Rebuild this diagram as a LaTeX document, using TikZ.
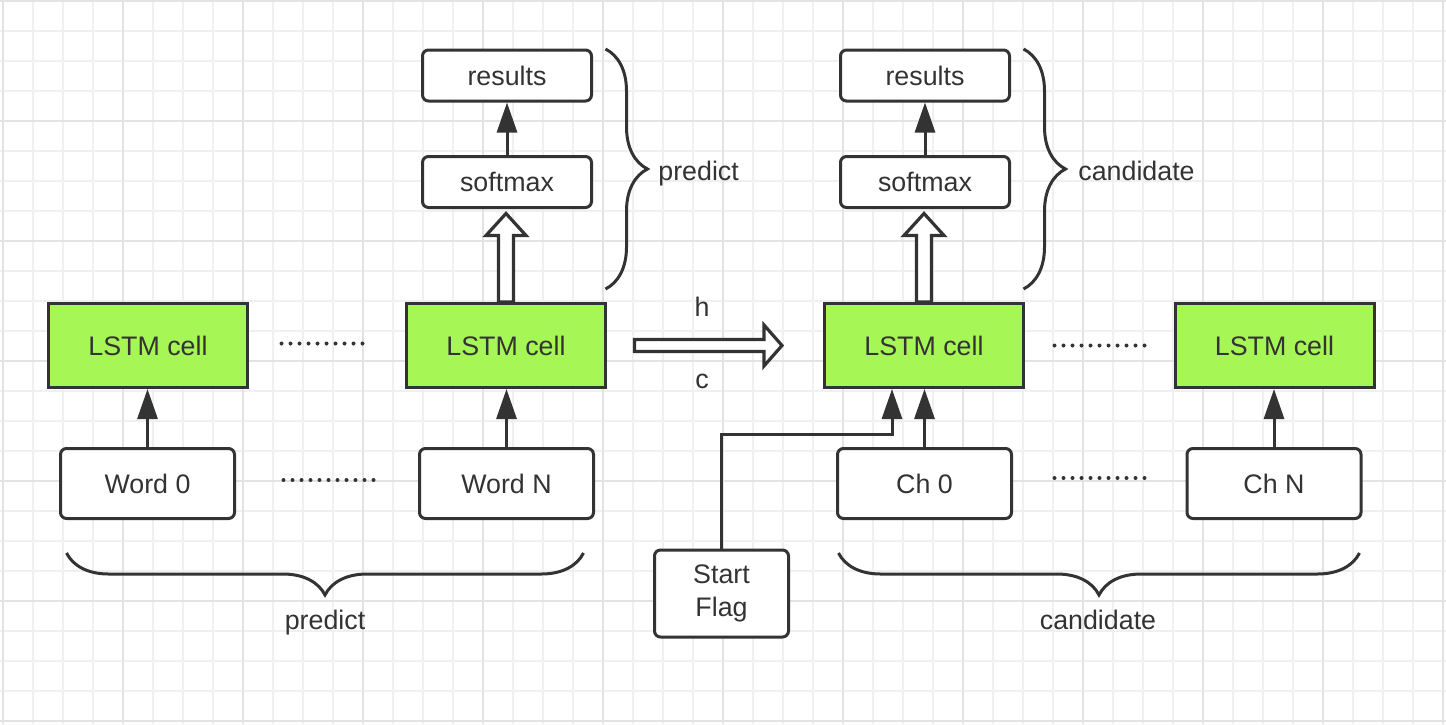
\documentclass[tikz,border=0pt]{standalone}
\usepackage{fontspec}
\setmainfont{Liberation Sans}
\usetikzlibrary{calc,positioning,arrows.meta,decorations.pathreplacing}
\definecolor{ink}{HTML}{333333}
\definecolor{cellgreen}{HTML}{A6F656}
\definecolor{gridminor}{HTML}{F0F0F0}
\definecolor{gridmajor}{HTML}{E3E3E3}

\begin{document}
\begin{tikzpicture}[x=0.5pt,y=-0.5pt,
  font=\fontsize{13.4}{16.5}\selectfont,text=ink,
  cell/.style={draw=ink,line width=1.5pt,fill=cellgreen,minimum width=99.5pt,minimum height=42pt,inner sep=0pt},
  tok/.style={draw=ink,line width=1.5pt,fill=white,rounded corners=3pt,minimum width=87pt,minimum height=35pt,inner sep=0pt},
  outbox/.style={tok,minimum width=84.5pt,minimum height=25.5pt},
  arr/.style={draw=ink,line width=1.5pt,-{Triangle[length=15pt,width=10pt]}},
  fat/.style={draw=ink,line width=1.6pt,fill=white},
  dots/.style={draw=ink,line width=2pt,line cap=round,dash pattern=on 0pt off 4.5pt},
  curly/.style={draw=ink,line width=1.5pt,decorate,decoration={brace,amplitude=21pt}},
  lbl/.style={inner sep=0pt,anchor=base}]
\useasboundingbox (0,0) rectangle (1446,724);
\fill[white] (0,0) rectangle (1446,724);
% grid paper
\foreach \i in {0,...,48} \draw[gridminor,line width=0.6pt] (3+30*\i,0) -- (3+30*\i,724);
\foreach \j in {0,...,24} \draw[gridminor,line width=0.6pt] (0,1+30*\j) -- (1446,1+30*\j);
\foreach \i in {0,...,12} \draw[gridmajor,line width=0.6pt] (3+120*\i,0) -- (3+120*\i,724);
\foreach \j in {0,...,6} \draw[gridmajor,line width=0.6pt] (0,1+120*\j) -- (1446,1+120*\j);

% cells and inputs
\node[cell] (lstm0) at (148,345.5) {LSTM cell};
\node[cell] (lstmN) at (506,345.5) {LSTM cell};
\node[cell] (lstmC0) at (924,345.5) {LSTM cell};
\node[cell] (lstmCN) at (1274.5,345.5) {LSTM cell};
\node[tok] (word0) at (147.5,483.5) {Word 0};
\node[tok] (wordN) at (506.5,483.5) {Word N};
\node[tok] (ch0) at (924.5,483.5) {Ch 0};
\node[tok] (chN) at (1274,483.5) {Ch N};
\node[tok,minimum width=67pt,minimum height=43.5pt,align=center] (flag) at (721.5,593.5) {Start\\Flag};

% outputs
\node[outbox] (res1) at (507,75.5) {results};
\node[outbox] (soft1) at (507,182) {softmax};
\node[outbox] (res2) at (925,75.5) {results};
\node[outbox] (soft2) at (925,182) {softmax};

\draw[arr] (word0.north) -- (word0.north |- lstm0.south);
\draw[arr] (wordN.north) -- (wordN.north |- lstmN.south);
\draw[arr] (ch0.north) -- (ch0.north |- lstmC0.south);
\draw[arr] (chN.north) -- (chN.north |- lstmCN.south);
\draw[arr] (flag.north) -- ++(0,-114) -| ([xshift=-16pt]lstmC0.south);
\draw[arr] (soft1) -- (res1);
\draw[arr] (soft2) -- (res2);

% hollow arrows
\draw[fat] (lstmN.north) ++(-7.5,0) -- ++(0,-66.5) -- ++(-12.5,0) -- ++(20,-22) -- ++(20,22) -- ++(-12.5,0) -- ++(0,66.5) -- cycle;
\draw[fat] (lstmC0.north) ++(-7.5,0) -- ++(0,-66.5) -- ++(-12.5,0) -- ++(20,-22) -- ++(20,22) -- ++(-12.5,0) -- ++(0,66.5) -- cycle;
\draw[fat] ([xshift=13.75pt]lstmN.east) ++(0,-6) -- ++(129.5,0) -- ++(0,-14.5) -- ++(18,20.5) -- ++(-18,20.5) -- ++(0,-14.5) -- ++(-129.5,0) -- cycle;
\node[lbl] (h) at (702,316) {h};
\node[lbl] (c) at (702,388) {c};

% dotted gaps
\draw[dots] ([xshift=16.25pt,yshift=1pt]lstm0.east) -- ([xshift=-16.75pt,yshift=1pt]lstmN.west);
\draw[dots] ([xshift=23.75pt,yshift=1.75pt]word0.east) -- ([xshift=-21.75pt,yshift=1.75pt]wordN.west);
\draw[dots] ([xshift=14.75pt]lstmC0.east) -- ([xshift=-13.25pt]lstmCN.west);
\draw[dots] ([xshift=20.75pt,yshift=2.75pt]ch0.east) -- ([xshift=-19.25pt,yshift=2.75pt]chN.west);

% braces
\draw[curly] (605.5,49) -- (605.5,289);
\draw[curly] (1023.5,49) -- (1023.5,289);
\draw[curly] (583.5,553) -- (66.5,553);
\draw[curly] (1359.5,553) -- (838.5,553);
\node[lbl,anchor=base west] (predR) at (658,180) {predict};
\node[lbl,anchor=base west] (candR) at (1078,180) {candidate};
\node[lbl] (predB) at (325,629) {predict};
\node[lbl] (candB) at (1098,629) {candidate};
\end{tikzpicture}
\end{document}
